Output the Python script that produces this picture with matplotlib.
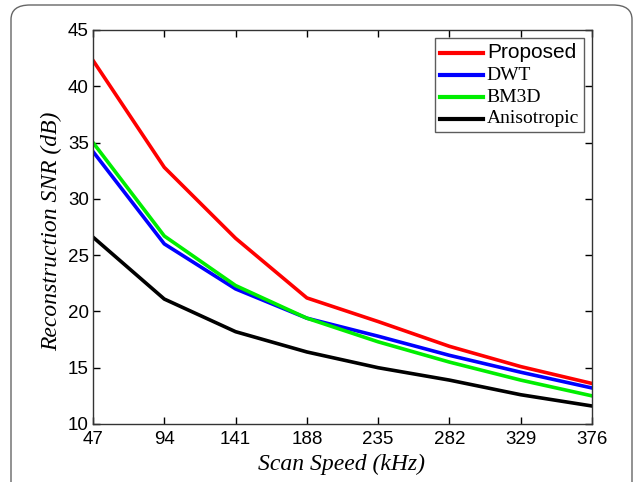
import matplotlib
matplotlib.use("Agg")
import matplotlib.pyplot as plt
from matplotlib.patches import FancyBboxPatch

speeds = [47, 94, 141, 188, 235, 282, 329, 376]
proposed = [42.3, 32.8, 26.5, 21.2, 19.1, 16.9, 15.1, 13.6]
dwt = [34.2, 26.0, 22.0, 19.4, 17.8, 16.1, 14.6, 13.2]
bm3d = [35.0, 26.7, 22.3, 19.4, 17.3, 15.5, 13.9, 12.5]
aniso = [26.6, 21.1, 18.2, 16.4, 15.0, 13.9, 12.6, 11.6]
yticks = [10, 15, 20, 25, 30, 35, 40, 45]

fig = plt.figure(figsize=(6.35, 4.82), dpi=100)
W, H = 635, 482
L, R, T, B = 93, 592, 30, 424
ax = fig.add_axes([L / W, 1 - B / H, (R - L) / W, (B - T) / H])

ax.plot(speeds, proposed, color="#ff0000", lw=2.6, label="Proposed")
ax.plot(speeds, dwt, color="#0000ff", lw=2.6, label="DWT")
ax.plot(speeds, bm3d, color="#00ee00", lw=2.6, label="BM3D")
ax.plot(speeds, aniso, color="#000000", lw=2.6, label="Anisotropic")

ax.set_xlim(47, 376)
ax.set_ylim(10, 45)
ax.set_xticks(speeds)
ax.set_yticks(yticks)
ax.tick_params(direction="in", length=5, width=1, labelsize=13.5, top=True, right=True)
ax.tick_params(axis="x", pad=5)
ax.tick_params(axis="y", pad=3)
for lab in ax.get_xticklabels() + ax.get_yticklabels():
    lab.set_family("Liberation Sans")
for s in ax.spines.values():
    s.set_linewidth(1.0)
    s.set_color("#333333")

ax.set_xlabel("Scan Speed (kHz)", family="Liberation Serif", style="italic", fontsize=17,
              labelpad=3)
ax.xaxis.set_label_coords((341 - L) / (R - L), -0.075)
ax.set_ylabel("Reconstruction SNR (dB)", family="Liberation Serif", style="italic",
              fontsize=17)
ax.yaxis.set_label_coords((62 - L) / (R - L), (B - 231) / (B - T))

leg = ax.legend(loc="upper right", bbox_to_anchor=(1 - 8 / (R - L), 1 - 8 / (B - T)),
                borderaxespad=0, frameon=True, fancybox=False, handlelength=3.1,
                handletextpad=0.3, labelspacing=0.35, borderpad=0.35)
leg.get_frame().set_edgecolor("#333333")
leg.get_frame().set_linewidth(1.0)
texts = leg.get_texts()
texts[0].set_family("Liberation Sans")
texts[0].set_fontsize(15)
for t in texts[1:]:
    t.set_family("Liberation Serif")
    t.set_fontsize(14)
for h in leg.get_lines():
    h.set_linewidth(3)

border = FancyBboxPatch((11 / W, -0.1), (632 - 11) / W, (1 - 5 / H) + 0.1,
                        boxstyle="round,pad=0,rounding_size=0.03",
                        transform=fig.transFigure, fill=False, edgecolor="#666666",
                        lw=1.0, clip_on=False)
fig.patches.append(border)

fig.savefig("out.png", dpi=100)
